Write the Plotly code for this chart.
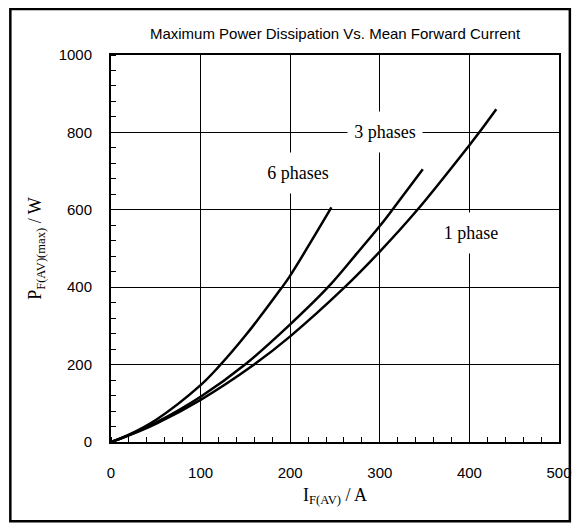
import plotly.graph_objects as go

# Data
i_6ph = [0, 20, 50, 100, 120, 150, 190, 200, 246]
p_6ph = [0, 19, 57, 147, 194, 275, 397, 430, 606]

i_3ph = [0, 20, 50, 100, 150, 200, 243, 274, 300, 313, 348]
p_3ph = [0, 18, 50, 117, 201, 304, 402, 486, 558, 597, 705]

i_1ph = [0, 20, 50, 100, 159, 200, 260, 300, 342, 400, 410, 430]
p_1ph = [0, 17, 47, 109, 199, 273, 398, 492, 600, 767, 797, 860]

series = [("6 phases", i_6ph, p_6ph), ("3 phases", i_3ph, p_3ph), ("1 phase", i_1ph, p_1ph)]

labels = ["6 phases", "3 phases", "1 phase"]
label_x = [209, 306, 402]
label_y = [694, 800, 539]

x_ticks = [0, 100, 200, 300, 400, 500]
y_ticks = [0, 200, 400, 600, 800, 1000]

fig = go.Figure()
for name, xs, ys in series:
    fig.add_trace(go.Scatter(x=xs, y=ys, mode="lines", name=name,
                             line=dict(color="black", width=2.5, shape="spline", smoothing=1.0),
                             showlegend=False, hoverinfo="skip"))

for t, x, y in zip(labels, label_x, label_y):
    fig.add_annotation(x=x, y=y, text=t, showarrow=False, bgcolor="white",
                       width=72, height=38,
                       font=dict(family="Liberation Serif, Times New Roman, serif", size=18, color="black"))

axis_font = dict(family="Liberation Sans, Arial, sans-serif", size=15, color="black")
title_font = dict(family="Liberation Serif, Times New Roman, serif", size=18, color="black")

fig.update_xaxes(range=[0, 500], tickvals=x_ticks, ticktext=[str(v) for v in x_ticks],
                 showgrid=True, gridcolor="black", gridwidth=1,
                 showline=True, linecolor="black", linewidth=2, mirror=True,
                 ticks="", tickfont=axis_font, ticklabelstandoff=16,
                 minor=dict(dtick=20, ticks="inside", ticklen=5, tickcolor="black", tickwidth=1, showgrid=False),
                 zeroline=False, fixedrange=True,
                 title=dict(text="I<sub>F(AV)</sub> / A", font=title_font, standoff=8))
fig.update_yaxes(range=[0, 1000], tickvals=y_ticks, ticktext=[str(v) for v in y_ticks],
                 showgrid=True, gridcolor="black", gridwidth=1,
                 showline=True, linecolor="black", linewidth=2, mirror=True,
                 ticks="", tickfont=axis_font, ticklabelstandoff=14,
                 minor=dict(dtick=40, ticks="inside", ticklen=5, tickcolor="black", tickwidth=1, showgrid=False),
                 zeroline=False, fixedrange=True,
                 title=dict(text="P<sub>F(AV)(max)</sub> / W", font=title_font, standoff=12))

# outer frame
fig.add_shape(type="rect", xref="paper", yref="paper",
              x0=-0.2247, x1=1.0242, y0=-0.2050, y1=1.1190,
              line=dict(color="black", width=2.5), fillcolor="rgba(0,0,0,0)")

fig.update_layout(
    width=576, height=521,
    margin=dict(l=103, r=19, t=47, b=87),
    paper_bgcolor="white", plot_bgcolor="white",
    title=dict(text="Maximum Power Dissipation Vs. Mean Forward Current",
               x=0.5, xref="paper", xanchor="center", y=1 - 26 / 521, yanchor="middle",
               font=axis_font),
)

fig.write_html("out.html")
